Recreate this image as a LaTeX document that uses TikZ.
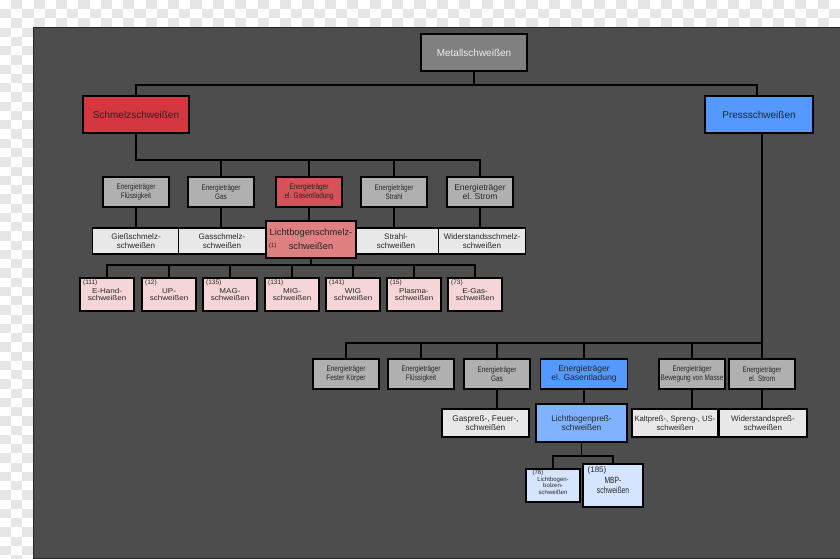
\documentclass[tikz,border=0pt]{standalone}
\usepackage{fontspec}
\setmainfont{Liberation Sans}
\newfontfamily\narrowf[FakeStretch=0.8]{Liberation Sans}
\newfontfamily\widef[FakeStretch=1.15]{Liberation Sans}
\newfontfamily\condf[FakeStretch=0.75]{Liberation Sans}
\definecolor{bgdark}{HTML}{4D4D4D}
\definecolor{checkg}{HTML}{E6E6E6}
\definecolor{metagray}{HTML}{808080}
\definecolor{metatext}{HTML}{EDEDED}
\definecolor{boxgray}{HTML}{B0B0B0}
\definecolor{boxlight}{HTML}{E8E8E8}
\definecolor{redA}{RGB}{212,55,62}
\definecolor{redB}{RGB}{215,82,88}
\definecolor{redC}{RGB}{222,128,128}
\definecolor{pinkD}{RGB}{245,213,213}
\definecolor{blueA}{RGB}{85,153,255}
\definecolor{blueC}{RGB}{128,179,255}
\definecolor{blueD}{RGB}{213,229,255}
\definecolor{txt}{HTML}{262626}
\tikzset{
  box/.style={draw=black, line width=1.1pt, inner sep=0pt, align=center, text=txt},
  conn/.style={draw=black, line width=1.4pt},
  etsmall/.style={box, fill=boxgray, minimum width=66pt, minimum height=30pt, font=\narrowf\fontsize{8}{9}\selectfont},
  etbig/.style={box, fill=boxgray, minimum width=66pt, minimum height=30pt, font=\fontsize{8.5}{9.5}\selectfont},
  procbox/.style={box, fill=boxlight, minimum height=26pt, font=\fontsize{8}{9}\selectfont},
  pinkbox/.style={box, fill=pinkD, minimum width=54pt, minimum height=33pt, font=\widef\fontsize{7}{7.5}\selectfont},
  numlab/.style={inner sep=0pt, text=txt, anchor=north west, font=\fontsize{6.5}{7}\selectfont},
}
\begin{document}
\begin{tikzpicture}[x=1pt,y=-1pt]
\useasboundingbox (0,0) rectangle (840,559);
\fill[white] (0,0) rectangle (840,559);
\foreach \i in {0,...,74}{\foreach \j in {0,1,2}{%
  \pgfmathtruncatemacro\p{mod(\i+\j,2)}%
  \ifnum\p=1 \fill[checkg] (\i*11.2,\j*9.25) rectangle ++(11.2,9.25);\fi}}
\foreach \i in {0,1,2}{\foreach \j in {3,...,60}{%
  \pgfmathtruncatemacro\p{mod(\i+\j,2)}%
  \ifnum\p=1 \fill[checkg] (\i*11.2,\j*9.25) rectangle ++(11.2,9.25);\fi}}
\draw[fill=bgdark, draw=black!85, line width=1pt] (33.5,28) rectangle (841,558.5);

% level 1
\node[box, fill=metagray, text=metatext, minimum width=106pt, minimum height=37pt, font=\fontsize{10}{12}\selectfont] (meta) at (474,52.5) {Metallschweißen};
\node[box, fill=redA, minimum width=106pt, minimum height=37pt, font=\fontsize{10}{12}\selectfont] (schm) at (136,114.5) {Schmelzschweißen};
\node[box, fill=blueA, minimum width=108pt, minimum height=37pt, font=\fontsize{10}{12}\selectfont] (press) at (759,114.5) {Pressschweißen};
\coordinate (bus1) at (474,85);
\draw[conn] (meta.south) -- (bus1);
\draw[conn] (schm.north) -- (schm.north |- bus1) -| ([xshift=-2pt]press.north);

% Schmelz level 2
\node[etsmall] (sfl) at (136,192) {Energieträger\\Flüssigkeit};
\node[etsmall] (sgas) at (221,192) {Energieträger\\Gas};
\node[etsmall, fill=redB] (sel) at (309,192) {Energieträger\\el. Gasentladung};
\node[etsmall] (sstr) at (394,192) {Energieträger\\Strahl};
\node[etbig] (sstrom) at (480,192) {Energieträger\\el. Strom};
\coordinate (bus2) at (0,160);
\draw[conn] (schm.south) -- (schm.south |- bus2) -- (sstrom.north |- bus2) -- (sstrom.north);
\foreach \n in {sgas,sel,sstr}{\draw[conn] (\n.north) -- (\n.north |- bus2);}

% Schmelz level 3
\node[procbox, minimum width=87pt] (giess) at (136,241) {Gießschmelz-\\schweißen};
\node[procbox, minimum width=87pt] (gassch) at (222,241) {Gasschmelz-\\schweißen};
\node[procbox, minimum width=86pt] (strahl) at (396,241) {Strahl-\\schweißen};
\node[procbox, minimum width=87pt] (wider) at (482,241) {Widerstandsschmelz-\\schweißen};
\node[box, fill=redC, minimum width=90pt, minimum height=37pt, font=\fontsize{9.3}{14}\selectfont] (lbs) at (311,239.5) {Lichtbogenschmelz-\\schweißen};
\node[numlab, anchor=west, font=\fontsize{6}{7}\selectfont] (l1) at ([xshift=3.5pt,yshift=-6.5pt]lbs.west) {(1)};
\draw[conn] (sfl.south) -- (sfl.south |- giess.north);
\draw[conn] (sgas.south) -- (sgas.south |- gassch.north);
\draw[conn] (sel.south) -- (sel.south |- lbs.north);
\draw[conn] (sstr.south) -- (sstr.south |- strahl.north);
\draw[conn] (sstrom.south) -- (sstrom.south |- wider.north);

% Schmelz level 4
\node[pinkbox] (w111) at (107,294.5) {E-Hand-\\schweißen};
\node[pinkbox] (w12) at (169,294.5) {UP-\\schweißen};
\node[pinkbox] (w135) at (230,294.5) {MAG-\\schweißen};
\node[pinkbox] (w131) at (292,294.5) {MIG-\\schweißen};
\node[pinkbox] (w141) at (353,294.5) {WIG\\schweißen};
\node[pinkbox] (w15) at (414,294.5) {Plasma-\\schweißen};
\node[pinkbox] (w73) at (475,294.5) {E-Gas-\\schweißen};
\node[numlab] (l111) at ([xshift=3.5pt,yshift=-2pt]w111.north west) {(111)};
\node[numlab] (l12) at ([xshift=3.5pt,yshift=-2pt]w12.north west) {(12)};
\node[numlab] (l135) at ([xshift=3.5pt,yshift=-2pt]w135.north west) {(135)};
\node[numlab] (l131) at ([xshift=3.5pt,yshift=-2pt]w131.north west) {(131)};
\node[numlab] (l141) at ([xshift=3.5pt,yshift=-2pt]w141.north west) {(141)};
\node[numlab] (l15) at ([xshift=3.5pt,yshift=-2pt]w15.north west) {(15)};
\node[numlab] (l73) at ([xshift=3.5pt,yshift=-2pt]w73.north west) {(73)};
\coordinate (bus3) at (0,265);
\draw[conn] (lbs.south) -- (lbs.south |- bus3);
\draw[conn] (w111.north) -- (w111.north |- bus3) -- (w73.north |- bus3) -- (w73.north);
\foreach \n in {w12,w135,w131,w141,w15}{\draw[conn] (\n.north) -- (\n.north |- bus3);}

% Press level 2
\node[etsmall] (pfk) at (346,374) {Energieträger\\Fester Körper};
\node[etsmall] (pfl) at (421,374) {Energieträger\\Flüssigkeit};
\node[etsmall] (pgas) at (497,374) {Energieträger\\Gas};
\node[etbig, fill=blueA, minimum width=87pt] (pel) at (584,374) {Energieträger\\el. Gasentladung};
\node[etsmall] (pbm) at (692,374) {Energieträger\\Bewegung von Masse};
\node[etsmall] (pst) at (762,374) {Energieträger\\el. Strom};
\coordinate (bus4) at (0,343);
\draw[conn] ([xshift=3pt]press.south) -- ([xshift=3pt]press.south |- bus4);
\draw[conn] (pfk.north) -- (pfk.north |- bus4) -- (pst.north |- bus4) -- (pst.north);
\foreach \n in {pfl,pgas,pel,pbm}{\draw[conn] (\n.north) -- (\n.north |- bus4);}

% Press level 3
\node[procbox, minimum width=87pt, minimum height=28pt, font=\fontsize{8.3}{9}\selectfont] (gaspr) at (485.5,423) {Gaspreß-, Feuer-,\\schweißen};
\node[procbox, minimum width=86pt, minimum height=28pt, font=\fontsize{7.7}{9}\selectfont] (kalt) at (675,423) {Kaltpreß-, Spreng-, US-\\schweißen};
\node[procbox, minimum width=88pt, minimum height=28pt] (widp) at (763,423) {Widerstandspreß-\\schweißen};
\node[box, fill=blueC, minimum width=91pt, minimum height=38pt, font=\fontsize{8.3}{9}\selectfont] (lbp) at (581.5,423) {Lichtbogenpreß-\\schweißen};
\draw[conn] (pgas.south) -- (pgas.south |- gaspr.north);
\draw[conn] (pel.south) -- (pel.south |- lbp.north);
\draw[conn] (pbm.south) -- (pbm.south |- kalt.north);
\draw[conn] (pst.south) -- (pst.south |- widp.north);

% Press level 4
\node[box, fill=blueD, minimum width=54pt, minimum height=33pt, font=\fontsize{6}{6.5}\selectfont] (lb78) at (553,485.5) {Lichtbogen-\\bolzen-\\schweißen};
\node[box, fill=blueD, minimum width=60pt, minimum height=43pt, font=\condf\fontsize{9}{10}\selectfont] (mbp) at (613,485.5) {MBP-\\schweißen};
\node[numlab, font=\fontsize{6}{6.5}\selectfont] (l78) at ([xshift=7pt,yshift=-1pt]lb78.north west) {(78)};
\node[numlab, font=\fontsize{8}{8.5}\selectfont] (l185) at ([xshift=5pt,yshift=-3pt]mbp.north west) {(185)};
\coordinate (bus5) at (0,456);
\draw[conn] (lbp.south) -- (lbp.south |- bus5);
\draw[conn] (lb78.north) -- (lb78.north |- bus5) -- (mbp.north |- bus5) -- (mbp.north);
\end{tikzpicture}
\end{document}
